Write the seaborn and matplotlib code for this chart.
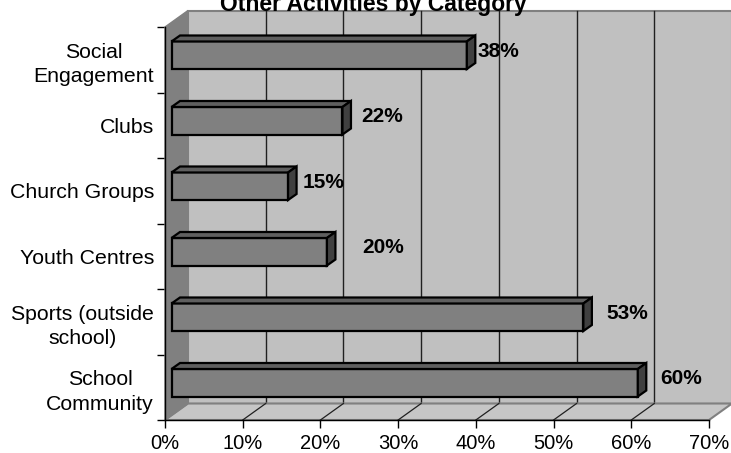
import matplotlib
matplotlib.use("Agg")
import matplotlib.pyplot as plt
import seaborn as sns
import pandas as pd
from matplotlib.patches import Polygon
from matplotlib.transforms import ScaledTranslation

# ---- data -------------------------------------------------------------
categories = ["Social\nEngagement", "Clubs", "Church Groups", "Youth Centres",
              "Sports (outside\nschool)", "School\nCommunity"]
shares = [0.38, 0.22, 0.15, 0.20, 0.53, 0.60]
value_labels = ["38%", "22%", "15%", "20%", "53%", "60%"]
x_ticks = [0.0, 0.1, 0.2, 0.3, 0.4, 0.5, 0.6, 0.7]
x_tick_labels = ["0%", "10%", "20%", "30%", "40%", "50%", "60%", "70%"]
title = "Other Activities by Category"

# ---- layout (pixels) --------------------------------------------------
W, H, DPI = 731, 453, 100
LEFT, RIGHT, TOP, BOTTOM = 165, 709, 27, 420     # front plane of the plot box
WALL_DEPTH = (23, 16.5)                          # back wall offset (right, up)
BAR_FRONT = (6.5, 4.5)                           # bar front face offset
BAR_DEPTH = (8.5, 6.0)                           # bar thickness in depth
label_nudge_px = [17, 25, 21, 42, 30, 29]        # value label x offsets
LABEL_RISE_PX = 8.5

plt.rcParams["font.family"] = ["Liberation Sans", "DejaVu Sans"]

fig = plt.figure(figsize=(W / DPI, H / DPI), dpi=DPI)
fig.patch.set_facecolor("white")
ax = fig.add_axes([LEFT / W, 1 - BOTTOM / H, (RIGHT - LEFT) / W, (BOTTOM - TOP) / H])

df = pd.DataFrame({"category": categories, "share": shares})
sns.barplot(data=df, x="share", y="category", orient="h", order=categories,
            color="#808080", saturation=1, width=0.42,
            edgecolor="black", linewidth=1.6, ax=ax, zorder=5)
bars = list(ax.patches)

XMAX = x_ticks[-1]
n = len(categories)
ax.set_xlim(0, XMAX)
ax.set_ylim(n - 0.5, -0.5)
ax.patch.set_visible(False)

sx = (RIGHT - LEFT) / XMAX        # pixels per data unit (x)
sy = (BOTTOM - TOP) / n           # pixels per category


def off(x, y, d):
    """Shift a data point by a pixel offset d=(right, up)."""
    return (x + d[0] / sx, y - d[1] / sy)


def add(points, **kw):
    kw.setdefault("clip_on", False)
    ax.add_patch(Polygon(points, closed=True, **kw))


y_top, y_bot = -0.5, n - 0.5

# back wall with gridlines
add([off(0, y_bot, WALL_DEPTH), off(XMAX, y_bot, WALL_DEPTH),
     off(XMAX, y_top, WALL_DEPTH), off(0, y_top, WALL_DEPTH)],
    facecolor="#c0c0c0", edgecolor="#808080", linewidth=1.5, zorder=0)
for xv in x_ticks[1:-1]:
    p0, p1 = off(xv, y_bot, WALL_DEPTH), off(xv, y_top, WALL_DEPTH)
    ax.plot([p0[0], p1[0]], [p0[1], p1[1]], color="#202020", lw=1.0,
            zorder=1, clip_on=False)

# floor
add([(0, y_bot), (XMAX, y_bot), off(XMAX, y_bot, WALL_DEPTH), off(0, y_bot, WALL_DEPTH)],
    facecolor="#c6c6c6", edgecolor="#808080", linewidth=1.5, zorder=1.5)
for xv in x_ticks[1:-1]:
    p1 = off(xv, y_bot, WALL_DEPTH)
    ax.plot([xv, p1[0]], [y_bot, p1[1]], color="#202020", lw=0.9,
            zorder=1.6, clip_on=False)

# side wall
add([(0, y_bot), (0, y_top), off(0, y_top, WALL_DEPTH), off(0, y_bot, WALL_DEPTH)],
    facecolor="#808080", edgecolor="#808080", linewidth=1.0, zorder=2)

# 3-D bars: shift the front faces, then add top and end faces
shift = ScaledTranslation(BAR_FRONT[0] / DPI, BAR_FRONT[1] / DPI, fig.dpi_scale_trans)
back = (BAR_FRONT[0] + BAR_DEPTH[0], BAR_FRONT[1] + BAR_DEPTH[1])
for i, p in enumerate(bars):
    p.set_transform(ax.transData + shift)
    p.set_clip_on(False)
    p.set_joinstyle("miter")
    x0, w = p.get_x(), p.get_width()
    y0, h = p.get_y(), p.get_height()
    x1, y1 = x0 + w, y0 + h
    add([off(x0, y0, BAR_FRONT), off(x1, y0, BAR_FRONT), off(x1, y0, back), off(x0, y0, back)],
        facecolor="#5f5f5f", edgecolor="black", linewidth=1.6, joinstyle="miter", zorder=5)
    add([off(x1, y0, BAR_FRONT), off(x1, y1, BAR_FRONT), off(x1, y1, back), off(x1, y0, back)],
        facecolor="#404040", edgecolor="black", linewidth=1.6, joinstyle="miter", zorder=5)

    lx, ly = off(shares[i], i, (label_nudge_px[i], LABEL_RISE_PX))
    ax.text(lx, ly, value_labels[i], ha="left", va="center", fontsize=15,
            fontweight="bold", color="black", zorder=6, clip_on=False)

# axes, ticks and labels
for side in ("top", "right"):
    ax.spines[side].set_visible(False)
for side in ("left", "bottom"):
    ax.spines[side].set_color("black")
    ax.spines[side].set_linewidth(1.0)
    ax.spines[side].set_zorder(4)

ax.set_xticks(x_ticks)
ax.set_xticklabels(x_tick_labels)
ax.tick_params(axis="x", direction="out", length=5.8, width=1.0, color="black",
               labelsize=14.5, pad=4)
ax.set_yticks(range(n))
ax.set_yticklabels(categories)
ax.set_yticks([k - 0.5 for k in range(n + 1)], minor=True)
ax.tick_params(axis="y", which="major", length=0, labelsize=15.3, pad=8)
ax.tick_params(axis="y", which="minor", direction="out", length=5.8, width=1.0, color="black")
for lbl in ax.get_yticklabels():
    lbl.set_multialignment("center")
    lbl.set_linespacing(1.35)
ax.set_xlabel("")
ax.set_ylabel("")

fig.text(373 / W, 1 - 11 / H, title, ha="center", va="baseline",
         fontsize=16.5, fontweight="bold", zorder=10)

fig.savefig("out.png", dpi=DPI)
